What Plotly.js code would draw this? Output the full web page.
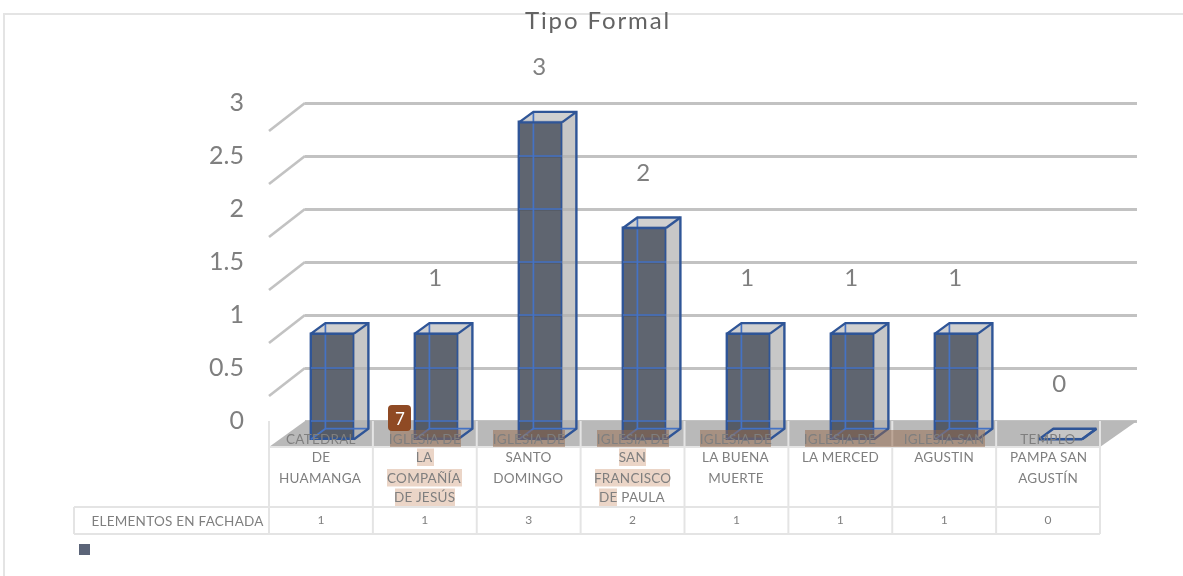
<!DOCTYPE html>
<html><head><meta charset="utf-8">
<script src="https://cdn.plot.ly/plotly-3.0.1.min.js"></script>
<style>html,body{margin:0;padding:0;background:#fff}#c{width:1183px;height:576px}
#c svg{filter:blur(0.45px)}
#c .gtitle{letter-spacing:1.9px}
#c .annotation-text{letter-spacing:0.25px}
</style>
</head><body><div id="c"></div>
<script>
// ---------- data ----------
const titleText = 'Tipo Formal';
const seriesName = 'ELEMENTOS EN FACHADA';
const categories = ['CATEDRAL DE HUAMANGA','IGLESIA DE LA COMPAÑÍA DE JESÚS','IGLESIA DE SANTO DOMINGO','IGLESIA DE SAN FRANCISCO DE PAULA','IGLESIA DE LA BUENA MUERTE','IGLESIA DE LA MERCED','IGLESIA SAN AGUSTIN','TEMPLO PAMPA SAN AGUSTÍN'];
const categoryLines = [
  ['CATEDRAL','DE','HUAMANGA'],
  ['IGLESIA DE','LA','COMPAÑÍA','DE JESÚS'],
  ['IGLESIA DE','SANTO','DOMINGO'],
  ['IGLESIA DE','SAN','FRANCISCO','DE PAULA'],
  ['IGLESIA DE','LA BUENA','MUERTE'],
  ['IGLESIA DE','LA MERCED'],
  ['IGLESIA SAN','AGUSTIN'],
  ['TEMPLO','PAMPA SAN','AGUSTÍN']
];
const values = [1,1,3,2,1,1,1,0];
const dataLabels = ['','1','3','2','1','1','1','0'];
const yTicks = [0,0.5,1,1.5,2,2.5,3];
const badgeText = '7';

// ---------- geometry (pixels of the page) ----------
const W=1183,H=576;
const barX0=332.5, catStep=104, barBase=439.2, valStep=105.6;
const wallZero=421, wallStep=106, wallL=305, wallR=1137;
const floorFront=447, floorL=269, floorR=1100;
const depthX=14.4, depthY=10.5, barW=43;
const X=px=>(px-barX0)/catStep, Y=py=>(barBase-py)/valStep;
const dx=depthX/catStep, dy=depthY/valStep, hw=barW/2/catStep;
const cellW=(floorR-floorL)/8;
const rowA=507,rowB=534,headL=74;
const lineY=[438.5,457,478,497];
const PX=px=>px/W, PY=py=>1-py/H;

const GRAY='#7f7f7f', EDGE='#2f5597', INNER='#4472c4', GRID='#c2c2c2';
const font='Lato, "Open Sans", sans-serif';

// helpers
function seg(list){const xs=[],ys=[];list.forEach(p=>{p.forEach(q=>{xs.push(q[0]);ys.push(q[1]);});xs.push(null);ys.push(null);});return {x:xs,y:ys};}
const idx=values.map((_,i)=>i);

// side and top faces
const sides=seg(idx.map(i=>{const v=values[i];return [[i+hw,0],[i+hw+dx,dy],[i+hw+dx,v+dy],[i+hw,v],[i+hw,0]];}));
const tops=seg(idx.map(i=>{const v=values[i];return [[i-hw,v],[i-hw+dx,v+dy],[i+hw+dx,v+dy],[i+hw,v],[i-hw,v]];}));
const backInner=seg(idx.filter(i=>values[i]>0).flatMap(i=>{const v=values[i];return [[[i-hw+dx,dy],[i-hw+dx,v+dy]],[[i-hw,0],[i-hw+dx,dy],[i+hw+dx,dy]]];}));
const outerEdges=seg(idx.map(i=>{const v=values[i];return [[i+hw,0],[i+hw+dx,dy],[i+hw+dx,v+dy],[i-hw+dx,v+dy],[i-hw,v],[i+hw,v]];}).concat(idx.map(i=>{const v=values[i];return [[i+hw,v],[i+hw+dx,v+dy]];})));
// wall grid levels seen through the bars
const wallY=t=>Y(wallZero-wallStep*t);
const gridThrough=seg(idx.flatMap(i=>yTicks.filter(t=>wallY(t)<values[i]&&wallY(t)>0).map(t=>[[i-hw,wallY(t)],[i+hw,wallY(t)]])));
// left wall diagonals
const diag=seg(yTicks.slice(1).map(t=>[[X(wallL),wallY(t)],[X(floorL),wallY(t)-28/valStep]]));
// data-table rules
const cellEdges=Array.from({length:9},(_,k)=>X(floorL+k*cellW));
const tableV=seg(cellEdges.map(x=>[[x,Y(wallZero)],[x,Y(rowB)]]).concat([[[X(headL),Y(rowA)],[X(headL),Y(rowB)]]]));
const tableH=seg([[[X(floorL),Y(floorFront)],[X(floorR),Y(floorFront)]],
  [[X(headL),Y(rowA)],[X(floorR),Y(rowA)]],[[X(headL),Y(rowB)],[X(floorR),Y(rowB)]]]);
const cellCenter=i=>X(floorL+(i+.5)*cellW);

const xy2={xaxis:'x2',yaxis:'y2',hoverinfo:'skip',showlegend:false};
const traces=[
  // wall subplot holds the real value axis
  {type:'scatter',mode:'none',x:[0,1],y:[0,3],xaxis:'x',yaxis:'y',hoverinfo:'skip',showlegend:false},
  {type:'bar',x:idx,y:values,width:barW/catStep,name:seriesName,customdata:categories,
   hovertemplate:'%{customdata}: %{y}<extra></extra>',
   marker:{color:'rgba(67,74,87,0.85)',line:{color:EDGE,width:2.4}},xaxis:'x2',yaxis:'y2',showlegend:false},
  Object.assign({type:'scatter',mode:'lines',fill:'toself',fillcolor:'rgba(178,178,178,0.72)',line:{width:0}},sides,xy2),
  Object.assign({type:'scatter',mode:'lines',fill:'toself',fillcolor:'rgba(200,200,200,0.85)',line:{width:0}},tops,xy2),
  Object.assign({type:'scatter',mode:'lines',line:{color:GRID,width:2.6}},diag,xy2),
  Object.assign({type:'scatter',mode:'lines',line:{color:INNER,width:1.7}},gridThrough,xy2),
  Object.assign({type:'scatter',mode:'lines',line:{color:INNER,width:1.7}},backInner,xy2),
  Object.assign({type:'scatter',mode:'lines',line:{color:EDGE,width:2.4}},outerEdges,xy2),
  Object.assign({type:'scatter',mode:'lines',line:{color:'#e4e4e4',width:2}},tableV,xy2),
  Object.assign({type:'scatter',mode:'lines',line:{color:'#e4e4e4',width:2}},tableH,xy2),
  Object.assign({type:'scatter',mode:'text',x:idx.map(i=>i-0.012),y:values.map(v=>v+0.505),text:dataLabels,
    textfont:{family:font,size:24,color:GRAY}},xy2),
  Object.assign({type:'scatter',mode:'text',x:idx.map(cellCenter),y:idx.map(()=>Y(521)),text:values.map(String),
    textfont:{family:font,size:12,color:GRAY}},xy2),
  Object.assign({type:'scatter',mode:'markers',x:[X(84.5)],y:[Y(549.5)],marker:{symbol:'square',size:11,color:'#5b6478'}},xy2)
];

// highlighted text spans [x0,x1,line]
const spans=[[390,461,0],[493,565,0],[597,669,0],[700,771,0],[805,985,0],
  [417,434,1],[619,646,1],[387,462,2],[595,670,2],[395,455,3],[599,617,3]];
const spanTop=[430,448.5,469,488.5], spanBot=[447,466,486.5,506];
const shapes=[
  {type:'path',layer:'below',xref:'x2',yref:'y2',line:{width:0},fillcolor:'#b9b9b9',
   path:`M${X(floorL)},${Y(floorFront)}L${X(wallL)},${Y(wallZero)}L${X(wallR)},${Y(wallZero)}L${X(floorR)},${Y(floorFront)}Z`},
  {type:'rect',xref:'paper',yref:'paper',x0:PX(4),x1:PX(1195),y0:PY(590),y1:PY(14),line:{color:'#e4e4e4',width:2},layer:'below'}
].concat(spans.map(s=>({type:'rect',layer:'above',xref:'x2',yref:'y2',x0:X(s[0]),x1:X(s[1]),
   y0:Y(spanBot[s[2]]),y1:Y(spanTop[s[2]]),line:{width:0},
   fillcolor:s[2]===0?'rgba(150,105,75,0.5)':'rgba(190,115,70,0.3)'})));
// rounded badge
(function(){const a=388,b=411,c=405,d=431,r=4;
 shapes.push({type:'path',layer:'above',xref:'x2',yref:'y2',line:{width:0},fillcolor:'#8f4a24',
 path:`M${X(a+r)},${Y(c)}L${X(b-r)},${Y(c)}Q${X(b)},${Y(c)} ${X(b)},${Y(c+r)}L${X(b)},${Y(d-r)}Q${X(b)},${Y(d)} ${X(b-r)},${Y(d)}L${X(a+r)},${Y(d)}Q${X(a)},${Y(d)} ${X(a)},${Y(d-r)}L${X(a)},${Y(c+r)}Q${X(a)},${Y(c)} ${X(a+r)},${Y(c)}Z`});})();

const annotations=[];
categoryLines.forEach((ls,i)=>ls.forEach((t,k)=>annotations.push({xref:'x2',yref:'y2',x:cellCenter(i),y:Y(lineY[k]),text:t,
  showarrow:false,xanchor:'center',yanchor:'middle',font:{family:font,size:13.5,color:GRAY}})));
annotations.push({xref:'x2',yref:'y2',x:X(264),y:Y(520.5),text:seriesName,showarrow:false,xanchor:'right',yanchor:'middle',font:{family:font,size:13.5,color:GRAY}});
annotations.push({xref:'x2',yref:'y2',x:X(399.5),y:Y(418),text:badgeText,showarrow:false,xanchor:'center',yanchor:'middle',font:{family:font,size:17,color:'#ffffff'}});

const pad=0.1;
const layout={
  width:W,height:H,margin:{l:0,r:0,t:0,b:0},paper_bgcolor:'#fff',plot_bgcolor:'rgba(0,0,0,0)',
  title:{text:titleText,x:598/W,y:1-21/H,xanchor:'center',yanchor:'middle',xref:'paper',yref:'paper',font:{family:font,size:24,color:'#636363'}},
  bargap:0,barmode:'overlay',
  xaxis:{domain:[PX(wallL),PX(wallR)],range:[0,1],visible:false,fixedrange:true,anchor:'y'},
  yaxis:{domain:[PY(wallZero+pad*wallStep),PY(wallZero-(3+pad)*wallStep)],range:[-pad,3+pad],tickvals:yTicks,ticktext:yTicks.map(String),anchor:'x',
    showgrid:true,gridcolor:GRID,gridwidth:2.6,zeroline:false,showline:false,ticks:'',
    ticklabelstandoff:60,ticklabelshift:-1,tickfont:{family:font,size:25,color:GRAY},fixedrange:true},
  xaxis2:{domain:[0,1],range:[X(0),X(W)],visible:false,fixedrange:true,anchor:'y2'},
  yaxis2:{domain:[0,1],range:[Y(H),Y(0)],visible:false,fixedrange:true,anchor:'x2'},
  shapes,annotations,showlegend:false
};
Plotly.newPlot('c',traces,layout,{displayModeBar:false,responsive:false});
</script></body></html>
